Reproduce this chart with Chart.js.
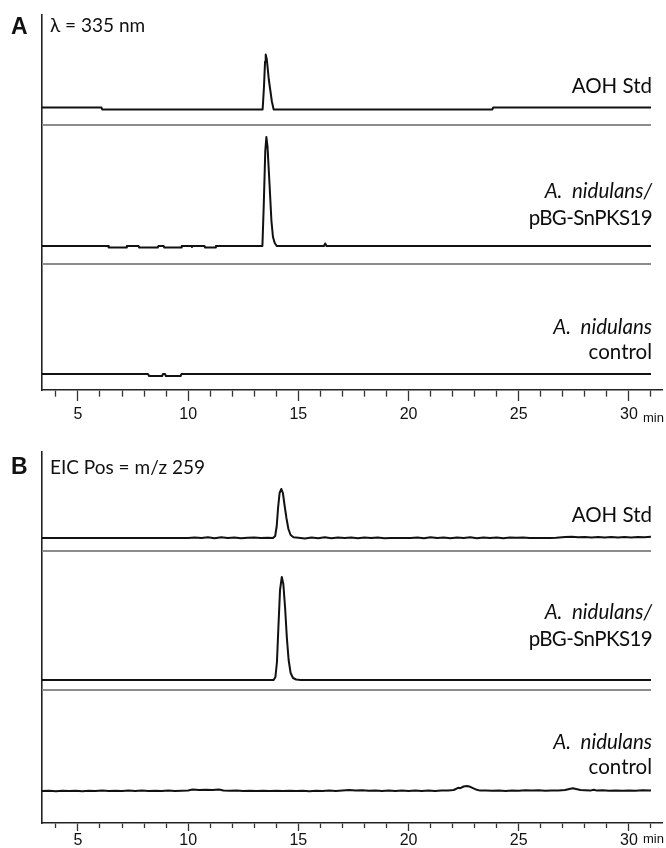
<!DOCTYPE html>
<html>
<head>
<meta charset="utf-8">
<script src="https://cdn.jsdelivr.net/npm/chart.js@4.4.0/dist/chart.umd.min.js"></script>
<style>
  html, body { margin: 0; padding: 0; background: #fff; }
  #page { position: relative; width: 666px; height: 848px; overflow: hidden; color: #111; }
  .panel { position: absolute; left: 0; width: 666px; height: 424px; }
  #panelA { top: 0; }
  #panelB { top: 424px; }
  .lbl { position: absolute; white-space: nowrap; line-height: 1; transform: translateY(-50%); }
  .letter { left: 11px; font: bold 23px "Liberation Sans", Arial, sans-serif; }
  .cond { left: 50px; font: 19px Lato, "Open Sans", sans-serif; }
  .name { right: 14px; text-align: right; font: 20.5px Lato, "Open Sans", sans-serif; color: #0d0d0d; }
  .name i { font-style: italic; }
  .tight { letter-spacing: -0.6px; }
  .unit { left: 643px; font: 13px "Liberation Sans", Arial, sans-serif; }
</style>
</head>
<body>
<div id="page">
  <canvas id="panelA" class="panel" width="666" height="424"></canvas>
  <canvas id="panelB" class="panel" width="666" height="424"></canvas>

  <div class="lbl letter" style="top:26px">A</div>
  <div class="lbl cond" style="top:24px">λ = 335 nm</div>
  <div class="lbl name" style="top:85px">AOH Std</div>
  <div class="lbl name" style="top:190px"><i>A.&nbsp;&nbsp;nidulans/</i></div>
  <div class="lbl name tight" style="top:217px">pBG-SnPKS19</div>
  <div class="lbl name" style="top:326px"><i>A.&nbsp;&nbsp;nidulans</i></div>
  <div class="lbl name" style="top:351px">control</div>
  <div class="lbl unit" style="top:417px">min</div>

  <div class="lbl letter" style="top:466px">B</div>
  <div class="lbl cond" style="top:466px">EIC Pos = m/z 259</div>
  <div class="lbl name" style="top:514px">AOH Std</div>
  <div class="lbl name" style="top:611px"><i>A.&nbsp;&nbsp;nidulans/</i></div>
  <div class="lbl name tight" style="top:638px">pBG-SnPKS19</div>
  <div class="lbl name" style="top:741px"><i>A.&nbsp;&nbsp;nidulans</i></div>
  <div class="lbl name" style="top:766px">control</div>
  <div class="lbl unit" style="top:838px">min</div>
</div>

<script>
// retention time axis (min)
const X_MIN = 3.37;
const X_MAX = 31.5;
const TRACE_END = 31.0;
const majorTicks = [5, 10, 15, 20, 25, 30];

// A: UV 335 nm traces, [time (min), signal]
const aStdTrace = [
    [3.37, 2], [6.07, 2], [6.10, 0], [13.38, 0], [13.44, 22], [13.49, 48], [13.52, 55],
    [13.57, 50], [13.66, 30], [13.73, 19], [13.80, 8], [13.88, 0], [23.80, 0], [23.84, 2], [31.0, 2]
];
const aPksTrace = [
    [3.37, 0], [6.37, 0], [6.40, -1.5], [7.19, -1.5], [7.22, 0], [7.75, 0], [7.78, -1.5],
    [8.62, -1.5], [8.65, 0], [8.89, 0], [8.92, -1.5], [9.68, -1.5], [9.71, 0], [10.14, 0],
    [10.17, -1], [10.21, 0], [10.74, 0], [10.77, -1.5], [11.23, -1.5], [11.26, 0],
    [13.37, 0], [13.43, 40], [13.50, 95], [13.55, 109], [13.60, 100], [13.70, 59],
    [13.78, 25], [13.85, 9], [13.93, 3], [14.02, 0],
    [16.16, 0], [16.22, 2.5], [16.28, 0], [31.0, 0]
];
const aCtrlTrace = [
    [3.37, 0], [8.18, 0], [8.23, -2], [8.82, -2], [8.86, 0], [8.95, 0], [8.99, -2],
    [9.66, -2], [9.70, 0], [31.0, 0]
];

// B: EIC m/z 259 traces, [time (min), signal]
const bStdTrace = [
    [3.37, 0], [10.0, 0], [10.3, 0.6], [10.6, 0], [10.9, 0.8], [11.2, -0.2], [11.5, 0.7],
    [11.8, 0], [12.1, 0.5], [12.4, -0.3], [12.7, 0.2], [13.0, 0.6], [13.3, 0], [13.6, 0.3],
    [13.85, 0], [13.95, 2], [14.02, 12], [14.08, 30], [14.15, 45], [14.23, 49], [14.30, 45],
    [14.38, 32], [14.46, 20], [14.55, 9], [14.65, 3], [14.78, 0.8],
    [15.0, 0.3], [15.3, -0.4], [15.6, 0.6], [15.9, -0.2], [16.2, 0.7], [16.5, -0.3],
    [16.8, 0.5], [17.1, 0.1], [17.4, 0.6], [17.7, -0.3], [18.0, 0.4], [18.3, 0], [18.6, 0.6],
    [18.9, -0.2], [19.2, 0.1], [19.5, 0], [19.8, 0], [20.1, 0.1], [20.4, 0.5], [20.7, -0.3],
    [21.0, 0.7], [21.3, 0], [21.6, 0.4], [21.9, -0.3], [22.2, 0.6], [22.5, 0.1], [22.8, 0.7],
    [23.1, -0.2], [23.4, 0.5], [23.7, 0], [24.0, 0.6], [24.3, -0.3], [24.6, 0.4], [24.9, 0.2],
    [25.2, 0.6], [25.5, 0], [25.8, 0], [26.1, 0], [26.4, 0], [26.7, 0.2], [27.1, 0.9],
    [27.4, 1.3], [27.7, 0.7], [28.0, 1.1], [28.3, 0.5], [28.6, 1.0], [28.9, 0.4], [29.2, 1.1],
    [29.5, 0.6], [29.8, 1.0], [30.1, 0.6], [30.4, 1.1], [30.7, 0.8], [31.0, 1.2]
];
const bPksTrace = [
    [3.37, 0], [13.88, 0], [13.96, 3], [14.03, 18], [14.10, 55], [14.17, 90], [14.25, 103],
    [14.32, 96], [14.40, 72], [14.48, 42], [14.56, 20], [14.65, 7], [14.76, 2], [14.90, 0.5],
    [15.1, 0], [31.0, 0]
];
const bCtrlTrace = [
    [3.37, 0], [3.7, 0.3], [4.0, -0.2], [4.3, 0.2], [4.6, -0.1], [4.9, 0.3], [5.2, -0.2],
    [5.5, 0.2], [5.8, 0], [6.1, 0.4], [6.4, -0.1], [6.7, 0.3], [7.0, 0], [7.3, 0.4], [7.6, 0.1],
    [7.9, 0.5], [8.2, 0], [8.5, 0.3], [8.8, -0.1], [9.1, 0.4], [9.4, 0.1], [9.7, 0.3],
    [10.0, 0.6], [10.2, 1.4], [10.5, 1.0], [10.8, 1.3], [11.1, 1.0], [11.4, 1.6], [11.6, 0.6],
    [11.9, 0.2], [12.2, 0.5], [12.5, 0], [12.8, 0.3], [13.1, -0.1], [13.4, 0.3], [13.7, 0],
    [14.0, 0.2], [14.3, -0.1], [14.6, 0.3], [14.9, 0], [15.2, 0.2], [15.5, -0.2], [15.8, 0.3],
    [16.1, 0], [16.4, 0.4], [16.7, 0.1], [17.0, 0.6], [17.3, 0.9], [17.6, 0.4], [17.9, 0.8],
    [18.2, 0.2], [18.5, 0.6], [18.8, 0.1], [19.1, 0.5], [19.4, 0], [19.7, 0.4], [20.0, 0.1],
    [20.3, 0.5], [20.6, 0], [20.9, 0.4], [21.2, 0.1], [21.5, 0.5], [21.8, 0.6], [22.05, 1.0],
    [22.25, 3.2], [22.35, 2.8], [22.5, 4.5], [22.65, 5.0], [22.8, 4.2], [22.95, 2.6],
    [23.1, 1.2], [23.25, 0.4], [23.5, 0.6], [23.8, 0.2], [24.1, 0.6], [24.4, 0.1], [24.7, 0.5],
    [25.0, 0.3], [25.3, 0.7], [25.6, 0.4], [25.9, 0.8], [26.2, 0.3], [26.5, 0.6], [26.8, 0.5],
    [27.1, 1.0], [27.3, 2.0], [27.45, 2.8], [27.6, 2.0], [27.8, 1.0], [28.0, 0.7], [28.25, 0.4],
    [28.4, 1.2], [28.55, 0.4], [28.8, 0.7], [29.1, 0.3], [29.4, 0.6], [29.7, 0.2], [30.0, 0.6],
    [30.3, 0.3], [30.6, 0.7], [31.0, 0.4]
];

// vertical stacking of the traces inside each panel (plot units)
const A_Y_MAX = 375;
const aOffsets = { std: 280.5, pks: 144, ctrl: 16 };
const aSeparators = [265, 126];
const B_Y_MAX = 371;
const bOffsets = { std: 285, pks: 143, ctrl: 32 };
const bSeparators = [272, 133];

function traceDataset(points, offset) {
    return {
        data: points.map(p => ({ x: p[0], y: p[1] + offset })),
        borderColor: '#111',
        borderWidth: 2,
        borderJoinStyle: 'round',
        pointRadius: 0,
        tension: 0,
        fill: false
    };
}

function separatorDataset(level) {
    return {
        data: [{ x: X_MIN, y: level }, { x: TRACE_END, y: level }],
        borderColor: '#8c8c8c',
        borderWidth: 2,
        pointRadius: 0,
        fill: false
    };
}

function createChromatogram(ctx, datasets, yMax, padTop, axisHeight, tickLen, labelPad) {
    return new Chart(ctx, {
        type: 'line',
        data: { datasets: datasets },
        options: {
            responsive: false,
            animation: false,
            events: [],
            layout: { padding: { top: padTop, left: 42, right: 4, bottom: 0 } },
            plugins: { legend: { display: false }, tooltip: { enabled: false } },
            scales: {
                x: {
                    type: 'linear',
                    min: X_MIN,
                    max: X_MAX,
                    afterFit: function (scale) { scale.height = axisHeight; },
                    border: { display: true, color: '#222', width: 1.6 },
                    grid: {
                        drawOnChartArea: false,
                        drawTicks: true,
                        tickLength: tickLen,
                        tickColor: '#333',
                        tickWidth: 1.3,
                        tickBorderDash: function (c) {
                            return (c.tick && majorTicks.includes(c.tick.value)) ? [] : [tickLen * 0.55, 30];
                        }
                    },
                    ticks: {
                        stepSize: 1,
                        includeBounds: false,
                        autoSkip: false,
                        maxRotation: 0,
                        padding: labelPad,
                        color: '#111',
                        font: { family: 'Liberation Sans', size: 16 },
                        callback: v => majorTicks.includes(v) ? String(v) : ''
                    }
                },
                y: {
                    min: 0,
                    max: yMax,
                    afterFit: function (scale) { scale.width = 0; },
                    border: { display: true, color: '#222', width: 1.6 },
                    grid: { display: false },
                    ticks: { display: false }
                }
            }
        }
    });
}

document.addEventListener('DOMContentLoaded', function () {
    const ctxA = document.getElementById('panelA').getContext('2d');
    createChromatogram(ctxA, [
        separatorDataset(aSeparators[0]),
        separatorDataset(aSeparators[1]),
        traceDataset(aStdTrace, aOffsets.std),
        traceDataset(aPksTrace, aOffsets.pks),
        traceDataset(aCtrlTrace, aOffsets.ctrl)
    ], A_Y_MAX, 15, 34, 11, 4);

    const ctxB = document.getElementById('panelB').getContext('2d');
    createChromatogram(ctxB, [
        separatorDataset(bSeparators[0]),
        separatorDataset(bSeparators[1]),
        traceDataset(bStdTrace, bOffsets.std),
        traceDataset(bPksTrace, bOffsets.pks),
        traceDataset(bCtrlTrace, bOffsets.ctrl)
    ], B_Y_MAX, 28, 25, 8, 0);
});
</script>
</body>
</html>
